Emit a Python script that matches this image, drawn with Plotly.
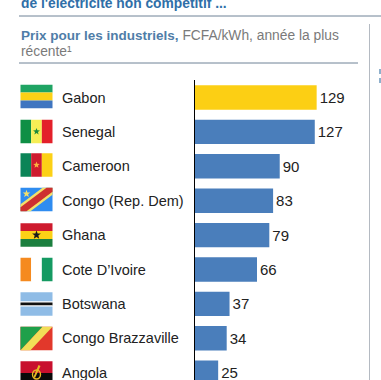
import math
import plotly.graph_objects as go

countries = ["Gabon", "Senegal", "Cameroon", "Congo (Rep. Dem)", "Ghana",
             "Cote D’Ivoire", "Botswana", "Congo Brazzaville", "Angola"]
prices = [129, 127, 90, 83, 79, 66, 37, 34, 25]
bar_colors = ["#FCCF14"] + ["#4A7EBB"] * 8

W, H = 381, 380
FX0, FX1 = 20.5, 52.5
FH = 23.5
flag_centers = [96.5, 131.5, 165, 199.5, 235, 269.5, 304, 338.5, 373]

def px(x): return x / W
def py(y): return 1 - y / H

shapes = []
def poly(pts, color, layer="above"):
    path = "M" + " L".join(f"{px(x):.5f},{py(y):.5f}" for x, y in pts) + " Z"
    shapes.append(dict(type="path", path=path, xref="paper", yref="paper",
                       fillcolor=color, line=dict(width=0), layer=layer))
def rect(x0, y0, x1, y1, color):
    poly([(x0, y0), (x1, y0), (x1, y1), (x0, y1)], color)
def star(cx, cy, r, color):
    pts = []
    for i in range(10):
        a = -math.pi / 2 + i * math.pi / 5
        rr = r if i % 2 == 0 else r * 0.42
        pts.append((cx + rr * math.cos(a), cy + rr * math.sin(a)))
    poly(pts, color)
def hbands(cy, cols, weights=None):
    weights = weights or [1] * len(cols)
    y = cy - FH / 2
    for c, w in zip(cols, weights):
        h = FH * w / sum(weights)
        rect(FX0, y, FX1, y + h, c)
        y += h
def vbands(cy, cols):
    w = (FX1 - FX0) / len(cols)
    for i, c in enumerate(cols):
        rect(FX0 + i * w, cy - FH / 2, FX0 + (i + 1) * w, cy + FH / 2, c)

c = flag_centers
hbands(c[0], ["#1FA463", "#FCD116", "#3F75C0"])
vbands(c[1], ["#0E8F45", "#F6EE55", "#E3202A"]); star((FX0 + FX1) / 2, c[1], 3.6, "#1C8A3C")
vbands(c[2], ["#0B8457", "#CE1B2E", "#FCD116"]); star((FX0 + FX1) / 2, c[2], 3.4, "#FBB040")
# DR Congo
t, b = c[3] - FH / 2, c[3] + FH / 2
rect(FX0, t, FX1, b, "#2F8CF0")
poly([(FX0, b - 7), (FX1 - 10, t), (FX1, t), (FX1, t + 7), (FX0 + 10, b), (FX0, b)], "#F4E06A")
poly([(FX0, b - 4), (FX1 - 6, t), (FX1, t), (FX1, t + 4), (FX0 + 6, b), (FX0, b)], "#CE3030")
star(FX0 + 6, t + 6, 4, "#F4E06A")
hbands(c[4], ["#CE1B2E", "#FCD116", "#1C7F3F"]); star((FX0 + FX1) / 2, c[4], 4.6, "#1A1A1A")
vbands(c[5], ["#F58A1F", "#FFFFFF", "#159A62"])
hbands(c[6], ["#8FBCE6", "#FFFFFF", "#111111", "#FFFFFF", "#8FBCE6"], [9, 1, 3, 1, 9])
# Congo Brazzaville
t, b = c[7] - FH / 2, c[7] + FH / 2
rect(FX0, t, FX1, b, "#E2382B")
poly([(FX0, b), (FX0, t), (FX1 - 10, t)], "#1FA04A")
poly([(FX0, b), (FX1 - 10, t), (FX1, t), (FX0 + 10, b)], "#F2DE57")
# Angola
hbands(c[8], ["#C8102E", "#0A0A0A"])
cx = (FX0 + FX1) / 2
shapes.append(dict(type="circle", xref="paper", yref="paper",
                   x0=px(cx - 4), x1=px(cx + 4), y0=py(c[8] + 6), y1=py(c[8] - 3),
                   line=dict(color="#E8B923", width=1.4), fillcolor="rgba(0,0,0,0)"))
poly([(cx + 4, c[8] - 7), (cx + 2, c[8] - 8), (cx - 3, c[8] + 4), (cx - 1.5, c[8] + 5)], "#E8B923")

# Rules
def line(x0, y0, x1, y1, color, w):
    shapes.append(dict(type="line", xref="paper", yref="paper", x0=px(x0), x1=px(x1),
                       y0=py(y0), y1=py(y1), line=dict(color=color, width=w)))
line(19, 16, 381, 16, "#6F8296", 1)
line(19, 63, 358, 63, "#6F8296", 1)
line(369.5, 24, 369.5, 380, "#B4BAC2", 1)
# clipped fragments of the neighbouring panel at the right edge
rect(379, 69, 381, 74, "#8FB0CC")
rect(379, 78, 381, 83, "#8FB0CC")

BLUE = "#4F7DA8"
GREY = "#7A7A7A"
annotations = [
    dict(x=px(18.5), y=py(3), xref="paper", yref="paper", xanchor="left", yanchor="middle",
         showarrow=False, text="<b>de l'électricité non compétitif ...</b>",
         font=dict(family="Liberation Sans", size=13.8, color="#2F6FA8")),
    dict(x=px(18.5), y=py(35.5), xref="paper", yref="paper", xanchor="left", yanchor="middle",
         showarrow=False,
         text=f"<b><span style='color:{BLUE};font-size:13.5px'>Prix pour les industriels,</span></b> FCFA/kWh, année la plus",
         font=dict(family="Liberation Sans", size=13.8, color=GREY)),
    dict(x=px(18.5), y=py(52), xref="paper", yref="paper", xanchor="left", yanchor="middle",
         showarrow=False, text="récente¹",
         font=dict(family="Liberation Sans", size=13.8, color=GREY)),
]
for name in countries:
    annotations.append(dict(x=px(60), y=name, xref="paper", yref="y", xanchor="left",
                            yanchor="middle", showarrow=False, text=name,
                            font=dict(family="Liberation Sans", size=14.5, color="#222222")))

Y_TOP, ROW = 97.5, 34.4
fig = go.Figure(go.Bar(
    x=prices, y=countries, orientation="h", marker=dict(color=bar_colors, line=dict(width=0)),
    width=0.71, text=prices, textposition="outside", cliponaxis=False,
    textfont=dict(family="Liberation Sans", size=15, color="#222222"),
    hoverinfo="skip"))
fig.update_layout(
    width=W, height=H, margin=dict(l=0, r=0, t=0, b=0), showlegend=False,
    paper_bgcolor="white", plot_bgcolor="white", shapes=shapes, annotations=annotations,
    xaxis=dict(domain=[194.5 / W, 1], range=[0, (W - 194.5) / 0.947], visible=False),
    yaxis=dict(domain=[0, 1 - 80 / H], type="category", categoryorder="array", categoryarray=countries,
               range=[(H - Y_TOP) / ROW, (80 - Y_TOP) / ROW], showticklabels=False, ticks="",
               showgrid=False, showline=True, linecolor="#000000", linewidth=1.2, zeroline=False,
               anchor="x"),
)
fig.write_html("out.html", config=dict(displayModeBar=False),
               post_script="document.body.style.margin='0';")
